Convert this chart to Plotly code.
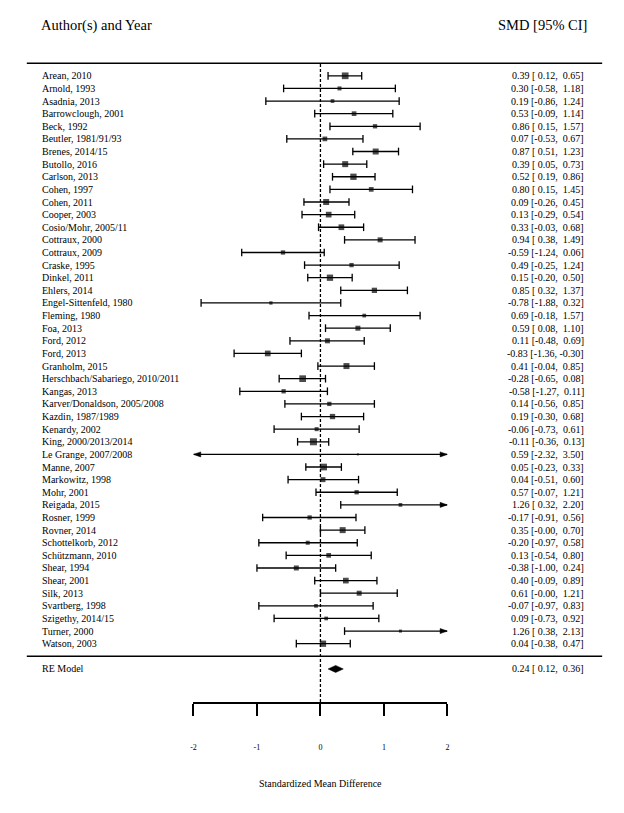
import numpy as np
import plotly.graph_objects as go

# ---------------- data ----------------
studies = [
    "Arean, 2010", "Arnold, 1993", "Asadnia, 2013", "Barrowclough, 2001", "Beck, 1992",
    "Beutler, 1981/91/93", "Brenes, 2014/15", "Butollo, 2016", "Carlson, 2013", "Cohen, 1997",
    "Cohen, 2011", "Cooper, 2003", "Cosio/Mohr, 2005/11", "Cottraux, 2000", "Cottraux, 2009",
    "Craske, 1995", "Dinkel, 2011", "Ehlers, 2014", "Engel-Sittenfeld, 1980", "Fleming, 1980",
    "Foa, 2013", "Ford, 2012", "Ford, 2013", "Granholm, 2015", "Herschbach/Sabariego, 2010/2011",
    "Kangas, 2013", "Karver/Donaldson, 2005/2008", "Kazdin, 1987/1989", "Kenardy, 2002",
    "King, 2000/2013/2014", "Le Grange, 2007/2008", "Manne, 2007", "Markowitz, 1998", "Mohr, 2001",
    "Reigada, 2015", "Rosner, 1999", "Rovner, 2014", "Schottelkorb, 2012", "Schützmann, 2010",
    "Shear, 1994", "Shear, 2001", "Silk, 2013", "Svartberg, 1998", "Szigethy, 2014/15",
    "Turner, 2000", "Watson, 2003",
]
smd = [0.39, 0.30, 0.19, 0.53, 0.86, 0.07, 0.87, 0.39, 0.52, 0.80,
       0.09, 0.13, 0.33, 0.94, -0.59, 0.49, 0.15, 0.85, -0.78, 0.69,
       0.59, 0.11, -0.83, 0.41, -0.28, -0.58, 0.14, 0.19, -0.06, -0.11,
       0.59, 0.05, 0.04, 0.57, 1.26, -0.17, 0.35, -0.20, 0.13, -0.38,
       0.40, 0.61, -0.07, 0.09, 1.26, 0.04]
ci_lower = [0.12, -0.58, -0.86, -0.09, 0.15, -0.53, 0.51, 0.05, 0.19, 0.15,
            -0.26, -0.29, -0.03, 0.38, -1.24, -0.25, -0.20, 0.32, -1.88, -0.18,
            0.08, -0.48, -1.36, -0.04, -0.65, -1.27, -0.56, -0.30, -0.73, -0.36,
            -2.32, -0.23, -0.51, -0.07, 0.32, -0.91, -0.0, -0.97, -0.54, -1.00,
            -0.09, -0.0, -0.97, -0.73, 0.38, -0.38]
ci_upper = [0.65, 1.18, 1.24, 1.14, 1.57, 0.67, 1.23, 0.73, 0.86, 1.45,
            0.45, 0.54, 0.68, 1.49, 0.06, 1.24, 0.50, 1.37, 0.32, 1.57,
            1.10, 0.69, -0.30, 0.85, 0.08, 0.11, 0.85, 0.68, 0.61, 0.13,
            3.50, 0.33, 0.60, 1.21, 2.20, 0.56, 0.70, 0.58, 0.80, 0.24,
            0.89, 1.21, 0.83, 0.92, 2.13, 0.47]
re_label = "RE Model"
re_est = 0.24
re_lower = 0.12
re_upper = 0.36

tick_values = [-2, -1, 0, 1, 2]
tick_labels = ["-2", "-1", "0", "1", "2"]
x_title = "Standardized Mean Difference"
header_left = "Author(s) and Year"
header_right = "SMD [95% CI]"

# style: square sizes (px)
square_size = [6.7, 4.0, 3.7, 4.7, 4.3, 4.7, 6.0, 6.0, 6.3, 4.7,
               6.0, 5.7, 5.7, 5.0, 4.3, 4.3, 6.3, 5.3, 3.3, 3.7,
               5.0, 5.0, 5.7, 6.0, 6.7, 4.3, 4.3, 5.3, 4.0, 7.0,
               2.0, 6.7, 5.0, 4.3, 3.7, 4.3, 6.0, 4.0, 4.7, 5.0,
               5.7, 5.0, 3.7, 3.7, 3.0, 6.3]

# ---------------- layout geometry ----------------
W, H = 624, 813
ROW = 12.62          # px per row
Y1_PX = 643.7        # pixel row of study y=1
AX_PX = 702.0        # pixel of the x axis line
ALIM = (-2, 2)
FONT = "Liberation Serif"

k = len(studies)
ys = np.arange(k, 0, -1, dtype=float)
y_top = 1 + Y1_PX / ROW
y_bot = 1 - (AX_PX - Y1_PX) / ROW

lo = np.array(ci_lower, dtype=float)
hi = np.array(ci_upper, dtype=float)
est = np.array(smd, dtype=float)
lo_c = np.clip(lo, *ALIM)
hi_c = np.clip(hi, *ALIM)

fig = go.Figure()

# CI lines
lx, ly = [], []
for a, b, y in zip(lo_c, hi_c, ys):
    lx += [a, b, None]
    ly += [y, y, None]
fig.add_trace(go.Scatter(x=lx, y=ly, mode="lines", line=dict(color="black", width=1.3),
                         hoverinfo="skip", cliponaxis=False))

# caps
cap_x = list(lo[lo >= ALIM[0]]) + list(hi[hi <= ALIM[1]])
cap_y = list(ys[lo >= ALIM[0]]) + list(ys[hi <= ALIM[1]])
fig.add_trace(go.Scatter(x=cap_x, y=cap_y, mode="markers",
                         marker=dict(symbol="line-ns", size=5.5, line=dict(color="black", width=1.3)),
                         hoverinfo="skip", cliponaxis=False))

# arrows for clipped intervals
alen = 0.115
ahh = 0.2
axs, ays = [], []
for a, b, y in zip(lo, hi, ys):
    if a < ALIM[0]:
        axs += [ALIM[0], ALIM[0] + alen, ALIM[0] + alen, ALIM[0], None]
        ays += [y, y + ahh, y - ahh, y, None]
    if b > ALIM[1]:
        axs += [ALIM[1], ALIM[1] - alen, ALIM[1] - alen, ALIM[1], None]
        ays += [y, y + ahh, y - ahh, y, None]
fig.add_trace(go.Scatter(x=axs, y=ays, mode="lines", fill="toself", fillcolor="black",
                         line=dict(color="black", width=0.5), hoverinfo="skip", cliponaxis=False))

# squares
fig.add_trace(go.Scatter(x=est, y=ys, mode="markers",
                         marker=dict(symbol="square", size=square_size, color="black",
                                     line=dict(width=0)),
                         cliponaxis=False))

# RE diamond
dh = 0.28
fig.add_trace(go.Scatter(x=[re_lower, re_est, re_upper, re_est, re_lower],
                         y=[-1, -1 + dh, -1, -1 - dh, -1],
                         mode="lines", fill="toself", fillcolor="black",
                         line=dict(color="black", width=0.5), hoverinfo="skip", cliponaxis=False))

def fmt(e, l, u):
    s = f"{e:.2f} [{l:5.2f}, {u:5.2f}]"
    return s.replace(" ", "\u00a0")

annotations = []
LBL_X = 37 / W
NUM_X = 588 / W
for name, e, l, u, y in zip(studies, smd, ci_lower, ci_upper, ys):
    annotations.append(dict(x=LBL_X, y=y, xref="paper", yref="y", text=name, showarrow=False,
                            xanchor="left", yanchor="middle", font=dict(family=FONT, size=10, color="black")))
    annotations.append(dict(x=NUM_X, y=y, xref="paper", yref="y", text=fmt(e, l, u), showarrow=False,
                            xanchor="right", yanchor="middle", font=dict(family=FONT, size=10, color="black")))
annotations.append(dict(x=LBL_X, y=-1, xref="paper", yref="y", text=re_label, showarrow=False,
                        xanchor="left", yanchor="middle", font=dict(family=FONT, size=10, color="black")))
annotations.append(dict(x=NUM_X, y=-1, xref="paper", yref="y", text=fmt(re_est, re_lower, re_upper),
                        showarrow=False, xanchor="right", yanchor="middle",
                        font=dict(family=FONT, size=10, color="black")))
# headers
annotations.append(dict(x=36 / W, y=1 - 25 / H, xref="paper", yref="paper", text=header_left,
                        showarrow=False, xanchor="left", yanchor="middle",
                        font=dict(family=FONT, size=14.5, color="black")))
annotations.append(dict(x=591 / W, y=1 - 25 / H, xref="paper", yref="paper", text=header_right,
                        showarrow=False, xanchor="right", yanchor="middle",
                        font=dict(family=FONT, size=14.5, color="black")))
# x title
annotations.append(dict(x=320 / W, y=1 - 783 / H, xref="paper", yref="paper", text=x_title,
                        showarrow=False, xanchor="center", yanchor="middle",
                        font=dict(family=FONT, size=10, color="black")))

shapes = [
    dict(type="line", xref="paper", yref="y", x0=24 / W, x1=604 / W, y0=k + 1, y1=k + 1,
         line=dict(color="black", width=1.6)),
    dict(type="line", xref="paper", yref="y", x0=24 / W, x1=604 / W, y0=0, y1=0,
         line=dict(color="black", width=1.6)),
    dict(type="line", xref="x", yref="y", x0=0, x1=0, y0=y_bot, y1=k + 1,
         line=dict(color="black", width=1.3, dash="3px,2px")),
]

fig.update_layout(
    width=W, height=H,
    margin=dict(l=0, r=0, t=0, b=0),
    paper_bgcolor="white", plot_bgcolor="white",
    showlegend=False,
    annotations=annotations,
    shapes=shapes,
    xaxis=dict(domain=[192 / W, 448 / W], range=list(ALIM), showgrid=False, zeroline=False,
               showline=True, linecolor="black", linewidth=1.5,
               ticks="outside", ticklen=12.5, tickwidth=1.5, tickcolor="black",
               tickvals=tick_values, ticktext=tick_labels, ticklabelstandoff=24,
               tickfont=dict(family=FONT, size=8, color="black"), fixedrange=True),
    yaxis=dict(domain=[(H - AX_PX) / H, 1], range=[y_bot, y_top], visible=False, fixedrange=True),
)

fig.write_html("out.html", config={"displayModeBar": False},
               post_script="document.body.style.margin='0px';")
